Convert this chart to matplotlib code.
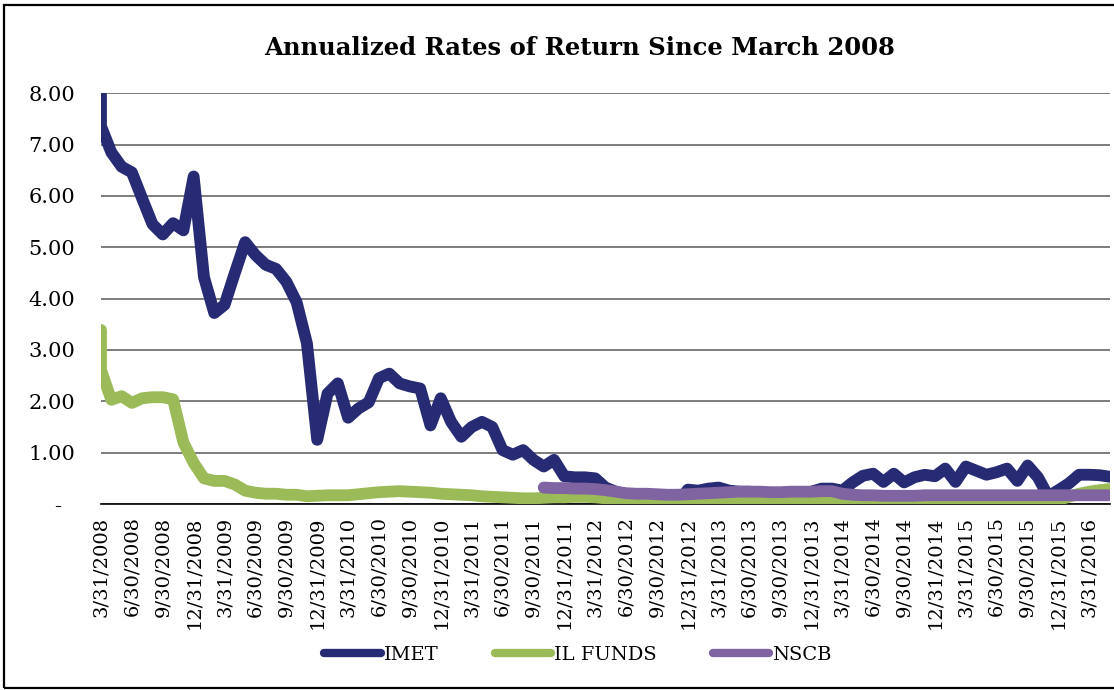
import numpy as np
import matplotlib
matplotlib.use('Agg')
import matplotlib.pyplot as plt
from matplotlib.patches import Rectangle
from matplotlib.lines import Line2D

plt.rcParams['font.family'] = ['DejaVu Serif']

# ---------------- data ----------------
title = "Annualized Rates of Return Since March 2008"
series_names = ["IMET", "IL FUNDS", "NSCB"]

quarter_labels = []
for yr in range(2008, 2017):
    for q in ["3/31", "6/30", "9/30", "12/31"]:
        quarter_labels.append(f"{q}/{yr}")
quarter_labels = quarter_labels[:33]   # 3/31/2008 ... 3/31/2016

# monthly values from 3/31/2008 (first two readings fall in the same month)
imet = [7.97, 7.36, 6.85, 6.57, 6.46, 5.95, 5.45, 5.25, 5.47, 5.33, 6.38,
        4.42, 3.72, 3.88, 4.50, 5.10, 4.85, 4.66, 4.58, 4.33, 3.93,
        3.13, 1.25, 2.15, 2.35, 1.68, 1.86, 1.98, 2.45, 2.54, 2.35,
        2.29, 2.25, 1.53, 2.06, 1.60, 1.31, 1.50, 1.60, 1.50, 1.05,
        0.96, 1.05, 0.86, 0.73, 0.86, 0.54, 0.52, 0.52, 0.50, 0.32,
        0.24, 0.18, 0.14, 0.11, 0.07, 0.02, 0.02, 0.28, 0.26, 0.30,
        0.32, 0.26, 0.24, 0.24, 0.22, 0.20, 0.18, 0.18, 0.20, 0.24,
        0.30, 0.30, 0.26, 0.42, 0.55, 0.59, 0.43, 0.59, 0.42, 0.52,
        0.57, 0.54, 0.69, 0.43, 0.73, 0.65, 0.57, 0.62, 0.69, 0.45,
        0.75, 0.52, 0.15, 0.27, 0.40, 0.57, 0.57, 0.56, 0.53]

il_funds = [3.39, 2.61, 2.03, 2.10, 1.97, 2.06, 2.08, 2.08, 2.04, 1.20, 0.80,
            0.50, 0.45, 0.45, 0.38, 0.26, 0.22, 0.20, 0.20, 0.18, 0.18,
            0.15, 0.16, 0.17, 0.17, 0.17, 0.19, 0.21, 0.23, 0.24, 0.25,
            0.24, 0.23, 0.22, 0.20, 0.19, 0.18, 0.17, 0.15, 0.14, 0.13,
            0.12, 0.11, 0.11, 0.12, 0.13, 0.13, 0.14, 0.14, 0.13, 0.11,
            0.10, 0.09, 0.08, 0.07, 0.06, 0.05, 0.05, 0.06, 0.07, 0.08,
            0.09, 0.10, 0.10, 0.10, 0.10, 0.10, 0.10, 0.10, 0.10, 0.10,
            0.10, 0.10, 0.08, 0.07, 0.06, 0.06, 0.06, 0.06, 0.06, 0.06,
            0.06, 0.06, 0.06, 0.06, 0.06, 0.06, 0.06, 0.06, 0.06, 0.06,
            0.06, 0.06, 0.05, 0.08, 0.14, 0.20, 0.24, 0.27, 0.29]

nscb_start_month = 43
nscb = [0.32, 0.31, 0.31, 0.30, 0.30, 0.29, 0.27, 0.24, 0.21, 0.20,
        0.20, 0.19, 0.18, 0.18, 0.19, 0.20, 0.21, 0.22, 0.23, 0.24,
        0.24, 0.24, 0.23, 0.23, 0.24, 0.24, 0.24, 0.25, 0.25, 0.20,
        0.18, 0.17, 0.17, 0.16, 0.16, 0.16, 0.16, 0.17, 0.17, 0.17,
        0.17, 0.17, 0.17, 0.17, 0.17, 0.17, 0.17, 0.17, 0.17, 0.17,
        0.17, 0.17, 0.17, 0.17, 0.17, 0.17]

y_ticks = [0, 1, 2, 3, 4, 5, 6, 7, 8]
y_labels = ["-  ", "1.00", "2.00", "3.00", "4.00", "5.00", "6.00", "7.00", "8.00"]

colors = ["#272B73", "#9BBB59", "#8064A2"]

# ---------------- figure ----------------
W, H = 1114, 690
fig = plt.figure(figsize=(W / 100, H / 100), dpi=100)
fig.patch.set_facecolor("white")

left, right, top, bottom = 101, 1110, 93.3, 504
ax = fig.add_axes([left / W, 1 - bottom / H, (right - left) / W, (bottom - top) / H])

imet_x = np.r_[0, np.arange(len(imet) - 1)]
il_x = np.r_[0, np.arange(len(il_funds) - 1)]
nscb_x = nscb_start_month + np.arange(len(nscb))

lw = 8.5
kw = dict(solid_capstyle="round", solid_joinstyle="round", lw=lw)
ax.plot(imet_x, imet, color=colors[0], zorder=3, **kw)
ax.plot(il_x, il_funds, color=colors[1], zorder=4, **kw)
ax.plot(nscb_x, nscb, color=colors[2], zorder=5, **kw)

n_months = len(imet) - 1
ax.set_xlim(0, n_months - 1)
ax.set_ylim(0, 8)

ax.set_yticks(y_ticks)
ax.set_yticklabels(y_labels, fontsize=15)
ax.yaxis.grid(True, color="#5a5a5a", lw=1.1, zorder=0)
ax.set_axisbelow(True)

ax.set_xticks(np.arange(0, 3 * len(quarter_labels), 3))
ax.set_xticklabels(quarter_labels, rotation=90, fontsize=14, va="top", ha="center")

ax.tick_params(axis="y", length=0, pad=18.5)
ax.tick_params(axis="x", length=0, pad=9)
for s in ["left", "right", "top"]:
    ax.spines[s].set_visible(False)
ax.spines["bottom"].set_color("black")
ax.spines["bottom"].set_linewidth(1.2)
ax.spines["bottom"].set_zorder(2)

fig.text(580 / W, 1 - 48 / H, title, ha="center", va="center",
         fontsize=17.5, fontweight="bold")

handles = [Line2D([], [], color=c, lw=6, solid_capstyle="round") for c in colors]
fig.legend(handles, series_names, loc="center", bbox_to_anchor=(578 / W, 1 - 655 / H),
           ncol=3, frameon=False, fontsize=14, handlelength=2.9,
           handletextpad=0.15, columnspacing=2.9)

fig.patches.append(Rectangle((4 / W, 2 / H), 1.2, (688 - 5) / H, transform=fig.transFigure,
                             fill=False, ec="black", lw=1.6, zorder=10))

fig.savefig("out.png", dpi=100)
